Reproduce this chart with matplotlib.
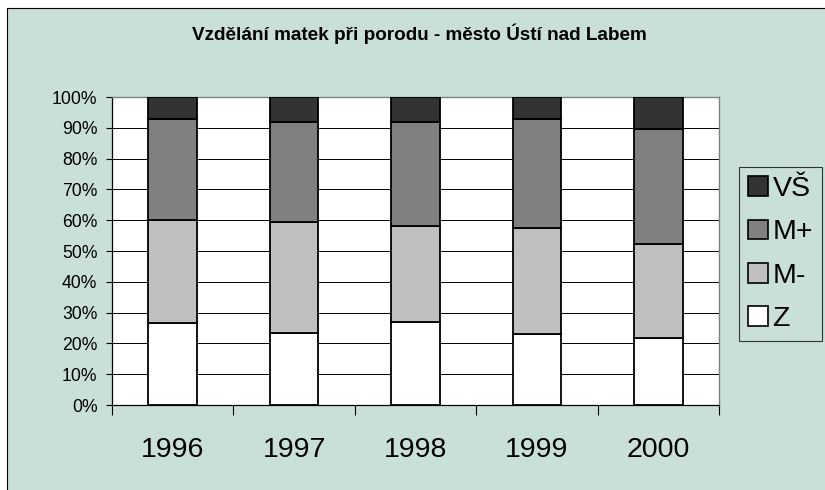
import matplotlib
matplotlib.use("Agg")
import matplotlib.pyplot as plt
from matplotlib.patches import Rectangle, Patch
import numpy as np

plt.rcParams['font.family'] = ['Liberation Sans', 'DejaVu Sans']

years = ['1996', '1997', '1998', '1999', '2000']
series_names = ['Z', 'M-', 'M+', 'VŠ']
Z = [26.6, 23.4, 27.1, 23.0, 21.8]
M_minus = [33.5, 36.0, 30.9, 34.5, 30.5]
M_plus = [32.9, 32.4, 33.8, 35.5, 37.4]
VS = [7.0, 8.2, 8.2, 7.0, 10.3]
title = 'Vzdělání matek při porodu - město Ústí nad Labem'

colors = ['#FFFFFF', '#C0C0C0', '#808080', '#333333']
bg = '#C9E0D8'

W, H = 825, 490
fig = plt.figure(figsize=(W / 100, H / 100), dpi=100, facecolor='white')
fig.patches.append(Rectangle((7 / W, -0.1), 1.2, 1 - 8 / H + 0.1, transform=fig.transFigure,
                             facecolor=bg, edgecolor='black', linewidth=0.8, zorder=-10))

ax = fig.add_axes([112 / W, 1 - 405 / H, (719 - 112) / W, (405 - 97) / H])
ax.set_facecolor('white')

data = [Z, M_minus, M_plus, VS]
x = np.arange(len(years))
bottom = np.zeros(len(years))
for vals, c, name in zip(data, colors, series_names):
    v = np.array(vals, dtype=float)
    ax.bar(x, v, width=0.4, bottom=bottom, color=c, edgecolor='black', linewidth=1.3,
           label=name, zorder=3)
    bottom += v

ax.set_xlim(-0.5, len(years) - 0.5)
ax.set_ylim(0, 100)
ax.set_yticks(np.arange(0, 101, 10))
ax.set_yticklabels([f'{v}%' for v in range(0, 101, 10)], fontsize=12.7)
ax.yaxis.grid(True, color='black', linewidth=0.7, zorder=0)
ax.set_axisbelow(True)

ax.set_xticks(x)
ax.set_xticklabels(years, fontsize=20.5)
ax.set_xticks(np.arange(-0.5, len(years)), minor=True)
ax.tick_params(axis='x', which='major', length=0, pad=23)
ax.tick_params(axis='x', which='minor', length=7, width=0.8, direction='out', color='black')
ax.tick_params(axis='y', length=4.5, width=0.8, pad=6, color='black')

for s in ['top', 'right']:
    ax.spines[s].set_color('#808080')
    ax.spines[s].set_linewidth(1.0)
for s in ['left', 'bottom']:
    ax.spines[s].set_color('black')
    ax.spines[s].set_linewidth(0.9)

# title, sized so that it spans the same width as in the reference
t = fig.text(419 / W, 1 - 34 / H, title, ha='center', va='center', fontsize=12, fontweight='bold')
renderer = fig.canvas.get_renderer()
w = t.get_window_extent(renderer).width
t.set_fontsize(12 * 452 / w)

handles = [Patch(facecolor=c, edgecolor='black', linewidth=1.2) for c in colors][::-1]
labels = series_names[::-1]
leg = fig.legend(handles, labels, loc='upper left', bbox_to_anchor=(739 / W, 1 - 167 / H),
                 fontsize=20.5, frameon=True, fancybox=False, edgecolor='#333333',
                 facecolor=bg, framealpha=1, borderpad=0.33, handlelength=0.7,
                 handleheight=0.7, handletextpad=0.15, labelspacing=0.6, borderaxespad=0)
leg.get_frame().set_linewidth(0.8)

fig.savefig('out.png', dpi=100, facecolor=fig.get_facecolor())
